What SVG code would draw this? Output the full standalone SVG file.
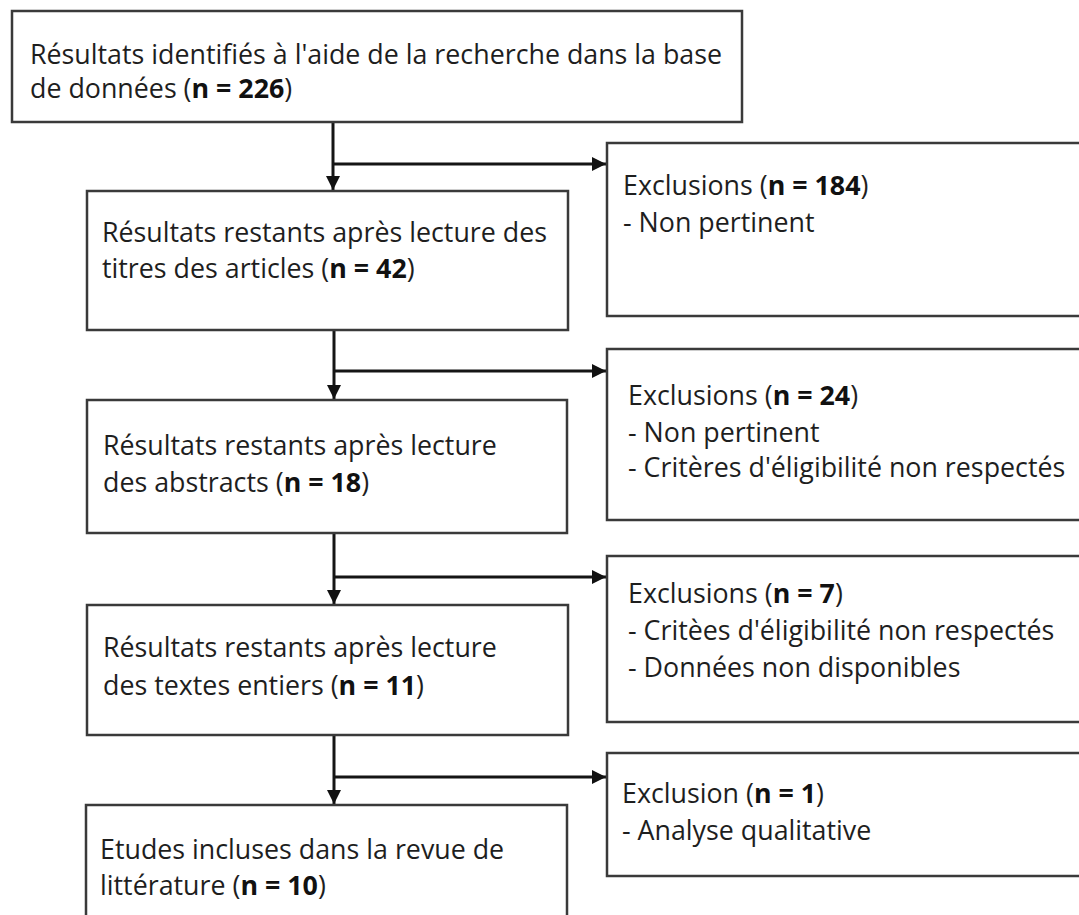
<svg xmlns="http://www.w3.org/2000/svg" width="1079" height="915" viewBox="0 0 1079 915">
<defs>
<marker id="ah" markerUnits="userSpaceOnUse" markerWidth="16" markerHeight="16" viewBox="0 0 16 16" refX="15" refY="8" orient="auto">
<path d="M1,1 L15,8 L1,15 Z" fill="#111"/>
</marker>
<style>
.box{fill:#fff;stroke:#3a3a3a;stroke-width:2.5}
.t{font-family:"Open Sans","Liberation Sans",sans-serif;font-size:26.8px;fill:#1e1e1e}
.b{font-weight:bold;fill:#111}
.c{fill:none;stroke:#151515;stroke-width:3}
</style>
</defs>
<rect width="1079" height="915" fill="#fff"/>
<g id="connectors">
<path class="c" d="M333,122 V190" marker-end="url(#ah)"/>
<path class="c" d="M333,164 H606" marker-end="url(#ah)"/>
<path class="c" d="M334,330 V399" marker-end="url(#ah)"/>
<path class="c" d="M334,371 H606" marker-end="url(#ah)"/>
<path class="c" d="M334,533 V604" marker-end="url(#ah)"/>
<path class="c" d="M334,577 H606" marker-end="url(#ah)"/>
<path class="c" d="M334,735 V804" marker-end="url(#ah)"/>
<path class="c" d="M334,777 H606" marker-end="url(#ah)"/>
</g>
<g id="n1">
<rect class="box" x="12" y="11" width="730" height="111"/>
<text class="t" x="30" y="64">Résultats identifiés à l'aide de la recherche dans la base</text>
<text class="t" x="30" y="98">de données (<tspan class="b">n = 226</tspan>)</text>
</g>
<g id="n2">
<rect class="box" x="87" y="191" width="481" height="139"/>
<text class="t" x="102" y="242">Résultats restants après lecture des</text>
<text class="t" x="102" y="278">titres des articles (<tspan class="b">n = 42</tspan>)</text>
</g>
<g id="n3">
<rect class="box" x="87" y="400" width="480" height="133"/>
<text class="t" x="103" y="455">Résultats restants après lecture</text>
<text class="t" x="103" y="492">des abstracts (<tspan class="b">n = 18</tspan>)</text>
</g>
<g id="n4">
<rect class="box" x="87" y="605" width="481" height="130"/>
<text class="t" x="103" y="657">Résultats restants après lecture</text>
<text class="t" x="103" y="695">des textes entiers (<tspan class="b">n = 11</tspan>)</text>
</g>
<g id="n5">
<rect class="box" x="86" y="805" width="481" height="130"/>
<text class="t" x="100" y="859">Etudes incluses dans la revue de</text>
<text class="t" x="100" y="895">littérature (<tspan class="b">n = 10</tspan>)</text>
</g>
<g id="r1">
<rect class="box" x="607" y="143" width="490" height="173"/>
<text class="t" x="623" y="195">Exclusions (<tspan class="b">n = 184</tspan>)</text>
<text class="t" x="623" y="232">- Non pertinent</text>
</g>
<g id="r2">
<rect class="box" x="607" y="349" width="490" height="171"/>
<text class="t" x="628" y="405">Exclusions (<tspan class="b">n = 24</tspan>)</text>
<text class="t" x="628" y="442">- Non pertinent</text>
<text class="t" x="628" y="477">- Critères d'éligibilité non respectés</text>
</g>
<g id="r3">
<rect class="box" x="607" y="556" width="490" height="166"/>
<text class="t" x="628" y="603">Exclusions (<tspan class="b">n = 7</tspan>)</text>
<text class="t" x="628" y="640">- Critèes d'éligibilité non respectés</text>
<text class="t" x="628" y="677">- Données non disponibles</text>
</g>
<g id="r4">
<rect class="box" x="607" y="753" width="490" height="123"/>
<text class="t" x="622" y="803">Exclusion (<tspan class="b">n = 1</tspan>)</text>
<text class="t" x="622" y="840">- Analyse qualitative</text>
</g>
</svg>
